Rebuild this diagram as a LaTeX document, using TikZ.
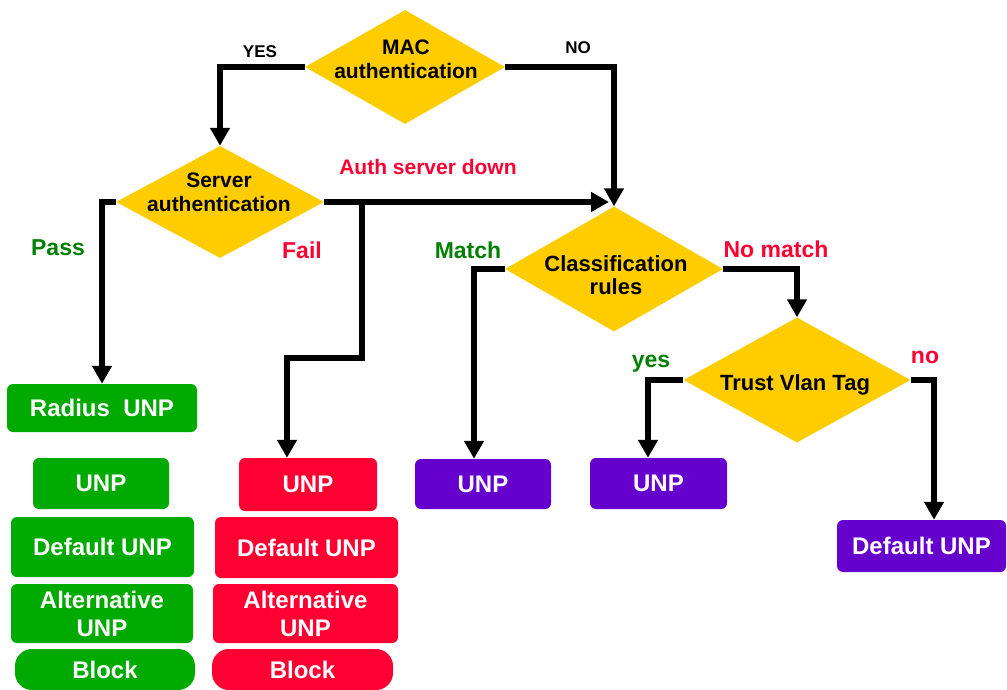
\documentclass[tikz,border=0pt]{standalone}
\usepackage{fontspec}
\setmainfont{Liberation Sans}
\usetikzlibrary{shapes.geometric,arrows.meta}
\definecolor{dyellow}{RGB}{255,204,0}
\definecolor{bgreen}{RGB}{0,170,0}
\definecolor{bred}{RGB}{255,0,51}
\definecolor{bpurple}{RGB}{102,0,204}
\definecolor{lgreen}{RGB}{0,128,0}
\definecolor{lred}{RGB}{255,0,51}
\begin{document}
\begin{tikzpicture}[x=1pt,y=-1pt,
  dia/.style={diamond, fill=dyellow, inner sep=0pt},
  dtext/.style={inner sep=0pt, align=center, font=\fontsize{21}{24}\selectfont\bfseries},
  box/.style={rounded corners=6pt, inner sep=0pt, text=white, align=center,
    font=\fontsize{24}{28}\selectfont\bfseries},
  blockbox/.style={box, rounded corners=17pt},
  conn/.style={line width=6pt, line join=miter, -{Triangle[width=19pt,length=18pt]}},
  lbl/.style={anchor=base, inner sep=0pt, font=\fontsize{23}{27}\selectfont\bfseries},
  ynlbl/.style={anchor=base, inner sep=0pt, font=\fontsize{17}{20}\selectfont\bfseries},
]
\useasboundingbox (0,0) rectangle (1007,690);

% decision diamonds
\node[dia, minimum width=200pt, minimum height=114pt] (mac) at (405,67) {};
\node[dia, minimum width=208pt, minimum height=112pt] (srv) at (220,202) {};
\node[dia, minimum width=218pt, minimum height=125pt] (cls) at (614,269) {};
\node[dia, minimum width=227pt, minimum height=125pt] (trust) at (797,380) {};

\node[dtext] (tmac) at (406,59) {MAC\\authentication};
\node[dtext] (tsrv) at (219,192) {Server\\authentication};
\node[dtext, font=\fontsize{22}{23}\selectfont\bfseries] (tcls) at (616,275) {Classification\\rules};
\node[dtext, anchor=base, font=\fontsize{22}{24}\selectfont\bfseries] (ttrust) at (795,390) {Trust Vlan Tag};

% green column
\node[box, fill=bgreen, minimum width=190pt, minimum height=48pt] (radius) at (102,408) {Radius\ \ UNP};
\node[box, fill=bgreen, minimum width=136pt, minimum height=51pt] (gunp) at (101,483.5) {UNP};
\node[box, fill=bgreen, minimum width=183pt, minimum height=60pt] (gdef) at (102.5,547) {Default UNP};
\node[box, fill=bgreen, minimum width=182pt, minimum height=59pt] (galt) at (102,613.5) {Alternative\\UNP};
\node[blockbox, fill=bgreen, minimum width=180pt, minimum height=41pt] (gblock) at (105,669.5) {Block};

% red column
\node[box, fill=bred, minimum width=138pt, minimum height=53pt] (runp) at (308,484.5) {UNP};
\node[box, fill=bred, minimum width=183pt, minimum height=61pt] (rdef) at (306.5,547.5) {Default UNP};
\node[box, fill=bred, minimum width=185pt, minimum height=59pt] (ralt) at (305.5,613.5) {Alternative\\UNP};
\node[blockbox, fill=bred, minimum width=181pt, minimum height=41pt] (rblock) at (302.5,669.5) {Block};

% purple boxes
\node[box, fill=bpurple, minimum width=136pt, minimum height=50pt] (punp1) at (483,484) {UNP};
\node[box, fill=bpurple, minimum width=137pt, minimum height=51pt] (punp2) at (658.5,483.5) {UNP};
\node[box, fill=bpurple, minimum width=169pt, minimum height=52pt] (pdef) at (921.5,546) {Default UNP};

% helper coordinates
\coordinate (fj) at (362,202);
\coordinate (fk) at (287,358);
\coordinate (mk) at (474,0);
\coordinate (yk) at (648,0);
\coordinate (nk) at (934,0);

% connectors
\draw[conn] (mac.west) -| (srv.north);
\draw[conn] (mac.east) -| (cls.north);
\draw[conn] (srv.west) -| (radius.north);
\draw[conn, shorten >=5pt] (srv.east) -- (srv.east -| cls.north);
\draw[conn] (fj) |- (fk) -- (fk |- runp.north);
\draw[conn] (cls.west) -| (mk |- punp1.north);
\draw[conn] (cls.east) -| (trust.north);
\draw[conn] (trust.west) -| (yk |- punp2.north);
\draw[conn] (trust.east) -| (nk |- pdef.north);

% labels
\node[ynlbl] (lyes) at (260,58) {YES};
\node[ynlbl] (lno) at (578,54) {NO};
\node[lbl, text=lred, font=\fontsize{21}{25}\selectfont\bfseries] (ldown) at (428,175) {Auth server down};
\node[lbl, text=lgreen] (lpass) at (58,255) {Pass};
\node[lbl, text=lred] (lfail) at (302,258) {Fail};
\node[lbl, text=lgreen] (lmatch) at (468,258) {Match};
\node[lbl, text=lred] (lnomatch) at (776,257) {No match};
\node[lbl, text=lgreen] (lyes2) at (651,367) {yes};
\node[lbl, text=lred] (lno2) at (925,363) {no};
\end{tikzpicture}
\end{document}
